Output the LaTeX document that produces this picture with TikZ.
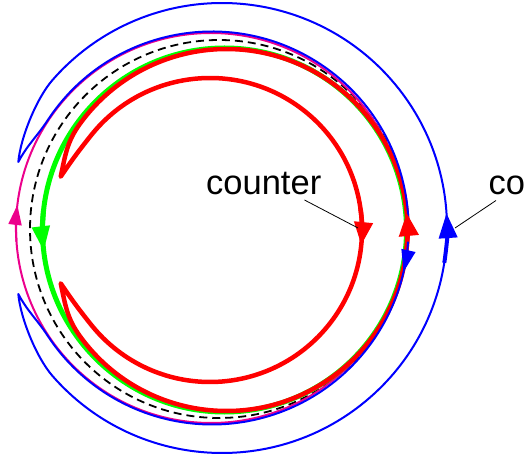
\documentclass[tikz,border=0pt]{standalone}
\usepackage{fontspec}
\setmainfont{Liberation Sans}
\usetikzlibrary{arrows.meta}
\begin{document}
\begin{tikzpicture}[
                x=1pt, y=1pt,
                redline/.style={draw=red, line width=4.5pt, line join=round},
                greenline/.style={draw=green, line width=5pt},
                blueline/.style={draw=blue, line width=2pt, line join=round},
                magline/.style={draw=magenta, line width=2pt},
                dashline/.style={draw=black, line width=1.8pt, dash pattern=on 8pt off 5pt},
                leader/.style={draw=black, line width=0.8pt},
                tagtext/.style={inner sep=0pt, font=\fontsize{34.5}{40}\selectfont}
                ]
                \useasboundingbox (0,0) rectangle (525,461);
                % centres of the rings
                \coordinate (Ir) at (210,231);
                \coordinate (Or) at (226.5,231);
                \coordinate (Gn) at (224.5,231);
                \coordinate (Ib) at (212,233);
                \coordinate (Ob) at (222,233);
                \coordinate (Mg) at (211,233);
                \coordinate (Dc) at (219,232);
                % plain rings
                \draw[dashline] (Dc) circle[radius=189];
                \draw[magline] (Mg) circle[radius=195];
                \draw[greenline] (Gn) circle[radius=182];
                % red loop
                \path (Or) ++(-144.2:181) coordinate (rOutS)
                      (Ir) ++(141.3:152) coordinate (rInS);
                \coordinate (rTipA) at (60.7,284.3);
                \coordinate (rTipB) at (60.7,177.7);
                \draw[redline] (rOutS) arc[start angle=-144.2, end angle=144.2, radius=181]
                    to[out=234.2, in=78] (rTipA) to[out=56, in=231.3] (rInS)
                    arc[start angle=141.3, end angle=-141.3, radius=152]
                    to[out=128.7, in=-56] (rTipB) to[out=-78, in=125.8] (rOutS);
                % blue loop
                \path (Ob) ++(-138.9:225) coordinate (bOutS)
                      (Ib) ++(146.7:196.5) coordinate (bInS);
                \coordinate (bTipA) at (18.3,299);
                \coordinate (bTipB) at (18.3,167);
                \draw[blueline] (bOutS) arc[start angle=-138.9, end angle=138.9, radius=225]
                    to[out=228.9, in=85, looseness=0.7] (bTipA) to[out=62, in=236.7] (bInS)
                    arc[start angle=146.7, end angle=-146.7, radius=196.5]
                    to[out=123.3, in=-62] (bTipB) to[out=-85, in=131.1, looseness=0.7] (bOutS);
                % arrows
                \draw[redline, -{Triangle[length=23pt, width=19pt]}] (Or) ++(-6.3:181) arc[start angle=-6.3, end angle=5.4, radius=181];
                \draw[redline, -{Triangle[length=23pt, width=18pt]}] (Ir) ++(8:152) arc[start angle=8, end angle=-5.7, radius=152];
                \draw[blueline, line width=4pt, -{Triangle[length=25pt, width=18pt]}] (Ob) ++(-8.9:225) arc[start angle=-8.9, end angle=3.8, radius=225];
                \draw[blueline, -{Triangle[length=22pt, width=14pt]}] (Ib) ++(-4:196.5) arc[start angle=-4, end angle=-12.9, radius=196.5];
                \draw[magline, -{Triangle[length=20pt, width=13pt]}] (Mg) ++(184:195) arc[start angle=184, end angle=173.2, radius=195];
                \draw[greenline, -{Triangle[length=25pt, width=17pt]}] (Gn) ++(174:182) arc[start angle=174, end angle=186.7, radius=182];
                % labels
                \node[tagtext, anchor=base west] (ctrRed) at (206,266) {counter};
                \node[tagtext, anchor=base west] (ctrBlue) at (488.5,266) {co};
                \coordinate (rPoint) at (358,233);
                \coordinate (bPoint) at (455,233);
                \draw[leader] ([xshift=-17pt, yshift=-5pt]ctrRed.base east) -- (rPoint);
                \draw[leader] ([xshift=7.5pt, yshift=-5.5pt]ctrBlue.base west) -- (bPoint);
            \end{tikzpicture}
\end{document}
